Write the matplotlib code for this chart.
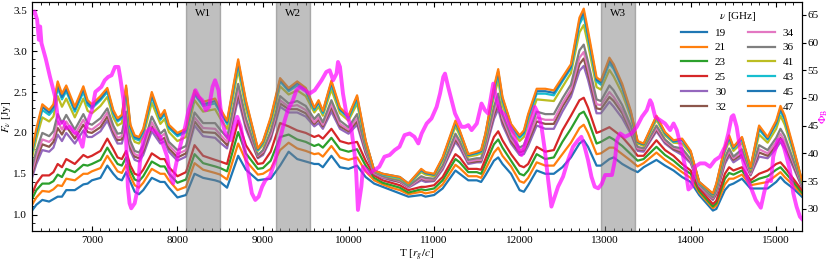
import matplotlib
matplotlib.use("Agg")
import matplotlib.pyplot as plt
from matplotlib.ticker import MultipleLocator

plt.rcParams['font.family'] = ['Liberation Serif', 'DejaVu Serif']
plt.rcParams['mathtext.fontset'] = 'stix'
plt.rcParams['font.size'] = 8

# time axis of the light curves [r_g/c]
t_flux = [6300, 6350, 6420, 6500, 6550, 6600, 6650, 6700, 6800, 6900,
          6950, 7000, 7100, 7180, 7250, 7300, 7350, 7400, 7450, 7500,
          7550, 7600, 7700, 7800, 7850, 7900, 8000, 8100, 8200, 8300,
          8440, 8500, 8580, 8710, 8800, 8940, 9000, 9090, 9200, 9300,
          9400, 9500, 9600, 9650, 9700, 9800, 9900, 10000, 10100, 10200,
          10300, 10400, 10500, 10600, 10700, 10850, 10900, 11000, 11100, 11250,
          11300, 11400, 11500, 11550, 11600, 11700, 11750, 11800, 11900, 12000,
          12050, 12100, 12200, 12300, 12400, 12500, 12600, 12700, 12750, 12800,
          12900, 12950, 13050, 13100, 13200, 13300, 13380, 13450, 13600, 13700,
          13800, 13900, 14000, 14100, 14260, 14300, 14400, 14450, 14500, 14600,
          14700, 14800, 14900, 15000, 15050, 15100, 15200, 15300]

# flux densities [Jy] per frequency
f19 = [1.05, 1.12, 1.18, 1.16, 1.19, 1.22, 1.22, 1.30, 1.30, 1.37,
       1.38, 1.42, 1.45, 1.60, 1.50, 1.44, 1.42, 1.52, 1.40, 1.28,
       1.25, 1.30, 1.45, 1.40, 1.40, 1.33, 1.21, 1.24, 1.50, 1.45,
       1.42, 1.40, 1.33, 1.72, 1.55, 1.42, 1.43, 1.44, 1.60, 1.77,
       1.68, 1.65, 1.62, 1.62, 1.58, 1.72, 1.58, 1.56, 1.60, 1.46,
       1.38, 1.34, 1.30, 1.26, 1.22, 1.24, 1.22, 1.24, 1.32, 1.54,
       1.50, 1.42, 1.42, 1.40, 1.48, 1.66, 1.70, 1.62, 1.50, 1.30,
       1.28, 1.36, 1.54, 1.50, 1.50, 1.58, 1.70, 1.87, 1.91, 1.83,
       1.60, 1.60, 1.68, 1.70, 1.62, 1.56, 1.52, 1.58, 1.67, 1.60,
       1.54, 1.46, 1.40, 1.24, 1.05, 1.07, 1.30, 1.36, 1.38, 1.44,
       1.32, 1.32, 1.32, 1.40, 1.46, 1.40, 1.32, 1.22]
f21 = [1.12, 1.21, 1.29, 1.28, 1.31, 1.36, 1.35, 1.44, 1.42, 1.50,
       1.50, 1.53, 1.57, 1.72, 1.61, 1.53, 1.51, 1.61, 1.47, 1.36,
       1.33, 1.39, 1.56, 1.50, 1.50, 1.42, 1.30, 1.34, 1.63, 1.55,
       1.51, 1.49, 1.43, 1.87, 1.66, 1.49, 1.50, 1.56, 1.79, 1.88,
       1.81, 1.78, 1.74, 1.75, 1.71, 1.84, 1.70, 1.67, 1.70, 1.53,
       1.42, 1.37, 1.33, 1.30, 1.25, 1.28, 1.26, 1.28, 1.37, 1.61,
       1.57, 1.47, 1.47, 1.45, 1.55, 1.76, 1.82, 1.72, 1.59, 1.41,
       1.39, 1.45, 1.64, 1.60, 1.60, 1.74, 1.88, 2.06, 2.10, 2.00,
       1.74, 1.75, 1.82, 1.82, 1.74, 1.66, 1.59, 1.63, 1.76, 1.67,
       1.60, 1.52, 1.45, 1.27, 1.08, 1.11, 1.37, 1.44, 1.44, 1.49,
       1.36, 1.38, 1.40, 1.48, 1.52, 1.46, 1.36, 1.25]
f23 = [1.19, 1.30, 1.38, 1.38, 1.41, 1.49, 1.46, 1.56, 1.52, 1.61,
       1.60, 1.62, 1.67, 1.82, 1.70, 1.62, 1.60, 1.70, 1.54, 1.43,
       1.41, 1.47, 1.65, 1.59, 1.59, 1.50, 1.39, 1.43, 1.74, 1.63,
       1.59, 1.57, 1.53, 2.01, 1.75, 1.56, 1.57, 1.66, 1.95, 1.98,
       1.92, 1.89, 1.84, 1.86, 1.82, 1.94, 1.80, 1.77, 1.80, 1.60,
       1.45, 1.39, 1.36, 1.33, 1.27, 1.31, 1.30, 1.32, 1.42, 1.68,
       1.64, 1.52, 1.52, 1.50, 1.62, 1.86, 1.92, 1.82, 1.66, 1.50,
       1.48, 1.54, 1.74, 1.68, 1.70, 1.89, 2.05, 2.23, 2.26, 2.16,
       1.87, 1.89, 1.95, 1.92, 1.84, 1.74, 1.66, 1.68, 1.83, 1.73,
       1.66, 1.57, 1.50, 1.29, 1.10, 1.14, 1.44, 1.51, 1.49, 1.54,
       1.39, 1.44, 1.47, 1.55, 1.58, 1.52, 1.40, 1.27]
f25 = [1.25, 1.38, 1.48, 1.48, 1.52, 1.62, 1.58, 1.68, 1.62, 1.73,
       1.70, 1.72, 1.78, 1.93, 1.80, 1.70, 1.68, 1.78, 1.60, 1.50,
       1.48, 1.55, 1.75, 1.68, 1.68, 1.58, 1.47, 1.52, 1.85, 1.72,
       1.67, 1.65, 1.62, 2.15, 1.85, 1.62, 1.63, 1.77, 2.12, 2.08,
       2.03, 2.00, 1.95, 1.97, 1.93, 2.05, 1.90, 1.87, 1.89, 1.66,
       1.48, 1.42, 1.39, 1.36, 1.30, 1.34, 1.34, 1.36, 1.46, 1.74,
       1.70, 1.56, 1.56, 1.55, 1.68, 1.95, 2.02, 1.91, 1.74, 1.60,
       1.58, 1.62, 1.83, 1.77, 1.79, 2.03, 2.21, 2.40, 2.43, 2.31,
       2.00, 2.02, 2.07, 2.03, 1.95, 1.83, 1.72, 1.72, 1.91, 1.79,
       1.72, 1.62, 1.54, 1.32, 1.13, 1.17, 1.50, 1.58, 1.54, 1.58,
       1.42, 1.50, 1.54, 1.62, 1.64, 1.58, 1.44, 1.30]
f30 = [1.45, 1.62, 1.79, 1.77, 1.82, 1.98, 1.90, 2.00, 1.87, 2.03,
       1.95, 1.95, 2.02, 2.15, 1.97, 1.87, 1.87, 2.07, 1.78, 1.67,
       1.65, 1.73, 2.02, 1.87, 1.90, 1.77, 1.66, 1.71, 2.09, 1.96,
       1.94, 1.88, 1.81, 2.42, 2.05, 1.69, 1.73, 1.92, 2.32, 2.25,
       2.25, 2.20, 2.08, 2.12, 2.05, 2.26, 2.05, 1.99, 2.10, 1.75,
       1.50, 1.45, 1.42, 1.40, 1.33, 1.42, 1.40, 1.41, 1.55, 1.89,
       1.82, 1.62, 1.64, 1.64, 1.79, 2.17, 2.29, 2.10, 1.87, 1.73,
       1.74, 1.84, 2.09, 2.05, 2.05, 2.26, 2.44, 2.76, 2.82, 2.65,
       2.24, 2.24, 2.38, 2.32, 2.18, 1.99, 1.78, 1.77, 2.02, 1.87,
       1.79, 1.73, 1.63, 1.35, 1.18, 1.25, 1.62, 1.72, 1.64, 1.71,
       1.48, 1.71, 1.69, 1.81, 1.89, 1.81, 1.58, 1.34]
f32 = [1.49, 1.67, 1.86, 1.83, 1.89, 2.06, 1.98, 2.08, 1.93, 2.10,
       2.01, 2.00, 2.07, 2.20, 2.01, 1.91, 1.92, 2.13, 1.82, 1.71,
       1.69, 1.77, 2.08, 1.91, 1.94, 1.81, 1.70, 1.75, 2.14, 2.01,
       2.00, 1.94, 1.85, 2.48, 2.09, 1.70, 1.75, 1.95, 2.36, 2.29,
       2.29, 2.24, 2.11, 2.16, 2.08, 2.31, 2.08, 2.02, 2.14, 1.77,
       1.51, 1.46, 1.43, 1.40, 1.34, 1.44, 1.42, 1.42, 1.57, 1.92,
       1.85, 1.64, 1.65, 1.66, 1.82, 2.22, 2.35, 2.14, 1.90, 1.76,
       1.78, 1.89, 2.14, 2.11, 2.11, 2.32, 2.49, 2.84, 2.91, 2.72,
       2.30, 2.29, 2.44, 2.39, 2.24, 2.02, 1.80, 1.79, 2.04, 1.89,
       1.80, 1.76, 1.65, 1.36, 1.19, 1.26, 1.65, 1.75, 1.67, 1.74,
       1.49, 1.76, 1.72, 1.85, 1.94, 1.86, 1.61, 1.35]
f34 = [1.53, 1.72, 1.92, 1.89, 1.94, 2.14, 2.04, 2.14, 1.98, 2.16,
       2.06, 2.04, 2.12, 2.25, 2.04, 1.94, 1.96, 2.19, 1.86, 1.74,
       1.72, 1.81, 2.13, 1.95, 1.99, 1.85, 1.74, 1.79, 2.19, 2.06,
       2.05, 1.98, 1.89, 2.53, 2.13, 1.72, 1.77, 1.98, 2.40, 2.32,
       2.34, 2.28, 2.13, 2.19, 2.10, 2.35, 2.11, 2.04, 2.18, 1.79,
       1.51, 1.46, 1.44, 1.41, 1.34, 1.45, 1.43, 1.43, 1.58, 1.95,
       1.87, 1.65, 1.67, 1.67, 1.84, 2.26, 2.41, 2.18, 1.93, 1.79,
       1.81, 1.93, 2.19, 2.16, 2.16, 2.36, 2.53, 2.92, 2.99, 2.79,
       2.35, 2.34, 2.50, 2.44, 2.28, 2.05, 1.81, 1.80, 2.06, 1.90,
       1.82, 1.78, 1.66, 1.36, 1.20, 1.28, 1.67, 1.78, 1.69, 1.77,
       1.50, 1.80, 1.75, 1.89, 1.99, 1.90, 1.64, 1.36]
f36 = [1.58, 1.78, 2.00, 1.96, 2.02, 2.23, 2.12, 2.22, 2.04, 2.23,
       2.12, 2.10, 2.18, 2.30, 2.09, 1.99, 2.00, 2.26, 1.90, 1.78,
       1.76, 1.85, 2.20, 1.99, 2.04, 1.89, 1.79, 1.84, 2.25, 2.12,
       2.12, 2.04, 1.94, 2.60, 2.18, 1.73, 1.79, 2.02, 2.45, 2.36,
       2.39, 2.33, 2.17, 2.23, 2.13, 2.40, 2.15, 2.07, 2.23, 1.81,
       1.52, 1.47, 1.44, 1.42, 1.35, 1.47, 1.45, 1.44, 1.60, 1.99,
       1.90, 1.67, 1.69, 1.69, 1.87, 2.32, 2.48, 2.23, 1.96, 1.82,
       1.85, 1.99, 2.26, 2.23, 2.23, 2.42, 2.59, 3.01, 3.08, 2.87,
       2.41, 2.39, 2.58, 2.52, 2.34, 2.09, 1.83, 1.81, 2.09, 1.92,
       1.83, 1.81, 1.68, 1.37, 1.21, 1.30, 1.70, 1.81, 1.71, 1.80,
       1.52, 1.85, 1.79, 1.94, 2.05, 1.96, 1.67, 1.37]
f41 = [1.70, 1.93, 2.19, 2.14, 2.20, 2.45, 2.32, 2.42, 2.19, 2.42,
       2.27, 2.24, 2.33, 2.44, 2.19, 2.09, 2.12, 2.44, 2.01, 1.89,
       1.87, 1.96, 2.37, 2.11, 2.17, 2.01, 1.90, 1.95, 2.40, 2.26,
       2.29, 2.18, 2.05, 2.77, 2.30, 1.78, 1.85, 2.11, 2.57, 2.47,
       2.52, 2.45, 2.25, 2.32, 2.21, 2.53, 2.24, 2.15, 2.36, 1.87,
       1.53, 1.49, 1.46, 1.44, 1.37, 1.52, 1.49, 1.47, 1.66, 2.08,
       1.97, 1.71, 1.73, 1.75, 1.93, 2.45, 2.64, 2.34, 2.04, 1.90,
       1.95, 2.12, 2.41, 2.40, 2.39, 2.56, 2.73, 3.23, 3.32, 3.08,
       2.56, 2.53, 2.77, 2.69, 2.48, 2.19, 1.87, 1.84, 2.16, 1.97,
       1.88, 1.87, 1.74, 1.39, 1.24, 1.34, 1.77, 1.90, 1.78, 1.88,
       1.55, 1.98, 1.88, 2.05, 2.21, 2.10, 1.76, 1.40]
f43 = [1.76, 2.00, 2.28, 2.22, 2.28, 2.55, 2.41, 2.51, 2.26, 2.50,
       2.34, 2.30, 2.40, 2.50, 2.24, 2.14, 2.18, 2.52, 2.06, 1.93,
       1.91, 2.01, 2.44, 2.16, 2.23, 2.06, 1.96, 2.01, 2.47, 2.33,
       2.36, 2.25, 2.11, 2.84, 2.36, 1.79, 1.88, 2.16, 2.63, 2.51,
       2.58, 2.51, 2.28, 2.37, 2.24, 2.59, 2.28, 2.18, 2.41, 1.89,
       1.54, 1.49, 1.47, 1.45, 1.37, 1.54, 1.51, 1.49, 1.68, 2.12,
       2.00, 1.73, 1.75, 1.77, 1.97, 2.51, 2.72, 2.40, 2.08, 1.94,
       1.99, 2.18, 2.48, 2.48, 2.46, 2.63, 2.79, 3.33, 3.43, 3.17,
       2.63, 2.59, 2.85, 2.78, 2.55, 2.23, 1.89, 1.86, 2.19, 1.99,
       1.89, 1.91, 1.76, 1.39, 1.25, 1.36, 1.80, 1.94, 1.81, 1.92,
       1.57, 2.04, 1.92, 2.11, 2.27, 2.16, 1.80, 1.41]
f45 = [1.78, 2.02, 2.32, 2.25, 2.32, 2.59, 2.44, 2.54, 2.29, 2.54,
       2.37, 2.32, 2.42, 2.53, 2.26, 2.16, 2.20, 2.55, 2.08, 1.95,
       1.93, 2.03, 2.47, 2.18, 2.26, 2.08, 1.98, 2.03, 2.49, 2.35,
       2.39, 2.27, 2.13, 2.87, 2.38, 1.80, 1.89, 2.17, 2.65, 2.53,
       2.61, 2.53, 2.30, 2.38, 2.26, 2.62, 2.29, 2.20, 2.44, 1.90,
       1.54, 1.50, 1.48, 1.46, 1.38, 1.55, 1.51, 1.49, 1.69, 2.13,
       2.02, 1.73, 1.76, 1.78, 1.98, 2.54, 2.75, 2.42, 2.10, 1.96,
       2.01, 2.21, 2.51, 2.51, 2.49, 2.65, 2.81, 3.37, 3.48, 3.21,
       2.65, 2.62, 2.89, 2.81, 2.57, 2.25, 1.89, 1.86, 2.20, 2.00,
       1.90, 1.92, 1.77, 1.40, 1.25, 1.37, 1.82, 1.95, 1.82, 1.94,
       1.57, 2.07, 1.93, 2.13, 2.30, 2.18, 1.81, 1.42]
f47 = [1.80, 2.05, 2.35, 2.28, 2.35, 2.63, 2.48, 2.58, 2.32, 2.57,
       2.40, 2.35, 2.45, 2.55, 2.28, 2.18, 2.22, 2.58, 2.10, 1.97,
       1.95, 2.05, 2.50, 2.20, 2.28, 2.10, 2.00, 2.05, 2.52, 2.38,
       2.42, 2.30, 2.15, 2.90, 2.40, 1.81, 1.90, 2.19, 2.67, 2.55,
       2.63, 2.55, 2.31, 2.40, 2.27, 2.64, 2.31, 2.21, 2.46, 1.91,
       1.54, 1.50, 1.48, 1.46, 1.38, 1.56, 1.52, 1.50, 1.70, 2.15,
       2.03, 1.74, 1.77, 1.79, 1.99, 2.56, 2.78, 2.44, 2.11, 1.97,
       2.03, 2.23, 2.54, 2.54, 2.52, 2.68, 2.84, 3.41, 3.52, 3.25,
       2.68, 2.64, 2.92, 2.84, 2.60, 2.27, 1.90, 1.87, 2.21, 2.01,
       1.91, 1.93, 1.78, 1.40, 1.26, 1.38, 1.83, 1.97, 1.83, 1.95,
       1.58, 2.09, 1.95, 2.15, 2.33, 2.21, 1.83, 1.42]

freqs = ['19', '21', '23', '25', '30', '32', '34', '36', '41', '43', '45', '47']
fluxes = [f19, f21, f23, f25, f30, f32, f34, f36, f41, f43, f45, f47]

# magnetic flux Phi_B (right axis)
t_phi = [6300, 6330, 6360, 6380, 6395, 6410, 6460, 6510, 6570, 6600,
         6620, 6670, 6700, 6740, 6790, 6830, 6860, 6890, 6920, 6960,
         7000, 7040, 7110, 7150, 7190, 7230, 7270, 7310, 7330, 7370,
         7390, 7400, 7420, 7440, 7460, 7500, 7540, 7560, 7600, 7640,
         7680, 7720, 7760, 7800, 7840, 7880, 7910, 7950, 7970, 8010,
         8050, 8090, 8130, 8170, 8210, 8250, 8290, 8330, 8370, 8410,
         8440, 8480, 8520, 8560, 8620, 8660, 8700, 8740, 8780, 8830,
         8870, 8910, 8950, 8990, 9030, 9080, 9140, 9180, 9255, 9290,
         9350, 9390, 9430, 9490, 9545, 9605, 9645, 9685, 9740, 9780,
         9820, 9860, 9877, 9900, 9935, 9975, 10030, 10070, 10090, 10110,
         10150, 10170, 10210, 10245, 10305, 10360, 10420, 10480, 10540, 10596,
         10655, 10715, 10770, 10816, 10855, 10914, 10970, 11030, 11070, 11108,
         11128, 11165, 11205, 11245, 11283, 11320, 11361, 11400, 11439, 11500,
         11555, 11595, 11633, 11692, 11730, 11770, 11828, 11867, 11925, 11983,
         12022, 12080, 12138, 12178, 12217, 12256, 12295, 12334, 12372, 12411,
         12450, 12508, 12567, 12625, 12684, 12722, 12760, 12800, 12840, 12878,
         12920, 12960, 13000, 13080, 13115, 13137, 13176, 13234, 13312, 13370,
         13430, 13487, 13526, 13546, 13585, 13643, 13700, 13760, 13800, 13838,
         13896, 13935, 13974, 14012, 14051, 14110, 14168, 14226, 14285, 14343,
         14401, 14440, 14479, 14500, 14538, 14580, 14615, 14660, 14700, 14760,
         14820, 14860, 14900, 14940, 14965, 15020, 15063, 15100, 15160, 15200,
         15238, 15277, 15300]
phi_b = [65.3, 65.6, 64.1, 60.5, 62.9, 59.9, 57.1, 53.8, 50.2, 46.6,
         45.4, 45.7, 44.5, 44.8, 43.9, 43.6, 42.4, 41.2, 44.2, 46.0,
         47.8, 51.1, 52.0, 53.2, 53.8, 54.1, 55.6, 55.6, 53.8, 49.6,
         44.8, 42.4, 34.0, 31.0, 30.1, 31.0, 34.0, 38.2, 42.4, 43.9,
         44.5, 44.2, 43.6, 43.0, 41.2, 39.4, 36.4, 34.6, 37.0, 40.0,
         42.4, 44.8, 47.8, 49.6, 51.4, 50.2, 49.6, 47.8, 48.4, 52.0,
         53.2, 51.4, 46.0, 43.6, 42.4, 44.8, 46.6, 44.8, 41.2, 36.4,
         32.8, 31.6, 32.2, 34.0, 35.2, 35.8, 38.6, 41.5, 46.0, 47.8,
         49.6, 51.4, 52.0, 51.4, 50.8, 51.4, 52.3, 53.2, 54.7, 55.0,
         53.2, 54.4, 56.5, 55.6, 50.8, 47.2, 44.8, 40.0, 36.4, 29.8,
         34.0, 37.6, 37.0, 36.4, 37.0, 37.6, 39.4, 39.7, 40.6, 41.2,
         43.3, 43.6, 43.0, 41.8, 43.6, 45.4, 46.3, 48.4, 50.8, 53.8,
         54.4, 52.0, 49.6, 47.2, 46.0, 44.8, 44.8, 45.1, 44.2, 45.4,
         49.0, 47.8, 47.2, 52.6, 49.6, 47.8, 46.9, 45.4, 43.6, 40.9,
         39.7, 42.4, 46.0, 48.4, 47.2, 44.8, 40.6, 35.2, 30.4, 32.2,
         34.0, 35.8, 38.8, 41.2, 42.4, 43.0, 41.2, 38.8, 35.8, 34.0,
         33.7, 34.5, 36.1, 36.1, 38.8, 42.4, 43.6, 43.0, 43.6, 44.8,
         46.6, 47.8, 49.6, 49.0, 46.6, 46.0, 45.4, 44.2, 45.4, 44.2,
         40.6, 37.6, 33.5, 34.0, 37.6, 38.2, 38.2, 37.6, 38.8, 39.4,
         41.2, 43.6, 46.6, 46.9, 44.8, 40.6, 38.5, 35.5, 34.0, 31.6,
         30.2, 33.0, 35.2, 35.0, 39.4, 42.4, 42.4, 40.6, 37.0, 32.8,
         30.4, 28.6, 28.2]

windows = [(8100, 8500, 'W1'), (9150, 9550, 'W2'), (12950, 13350, 'W3')]

fig = plt.figure(figsize=(8.3, 2.64), dpi=100)
ax = fig.add_axes([0.0386, 0.125, 0.9275, 0.867])

colors = plt.rcParams['axes.prop_cycle'].by_key()['color']
for i, (nu, f) in enumerate(zip(freqs, fluxes)):
    ax.plot(t_flux, f, color=colors[i % 10], lw=1.6, label=nu, zorder=2)

for t0, t1, name in windows:
    ax.axvspan(t0, t1, facecolor='gray', alpha=0.5, edgecolor='0.45', lw=1.0, zorder=3)
    ax.text(0.5 * (t0 + t1), 3.46, name, ha='center', va='center', fontsize=8, zorder=4)

ax.set_xlim(6300, 15300)
ax.set_ylim(0.8, 3.6)
ax.xaxis.set_major_locator(MultipleLocator(1000))
ax.xaxis.set_minor_locator(MultipleLocator(100))
ax.yaxis.set_major_locator(MultipleLocator(0.5))
ax.yaxis.set_minor_locator(MultipleLocator(0.1))
ax.yaxis.set_major_formatter(matplotlib.ticker.FormatStrFormatter('%.1f'))
ax.tick_params(which='both', direction='in', top=True, right=False)
ax.tick_params(which='major', length=3.5)
ax.tick_params(which='minor', length=2)
ax.set_xlabel(r'T [$r_g/c$]', labelpad=2)
ax.set_ylabel(r'$F_\nu$ [Jy]')
ax.yaxis.set_label_coords(-0.0245, 0.5)

leg = ax.legend(title=r'$\nu$ [GHz]', ncol=2, loc='upper right', frameon=False,
                fontsize=8, title_fontsize=8, handlelength=2.4, handletextpad=0.7,
                columnspacing=2.0, labelspacing=0.45, borderaxespad=0.3)
leg.set_zorder(5)

ax2 = ax.twinx()
ax2.plot(t_phi, phi_b, color='magenta', lw=2.8, alpha=0.7, zorder=2)
ax2.set_ylim(26, 67.3)
ax2.yaxis.set_major_locator(MultipleLocator(5))
ax2.tick_params(axis='y', direction='out', length=3, pad=1.2)
ax2.set_ylabel(r'$\Phi_{\rm B}$', color='magenta', fontsize=8)
ax2.yaxis.set_label_coords(1.0205, 0.5)

fig.savefig('out.png', dpi=100)
